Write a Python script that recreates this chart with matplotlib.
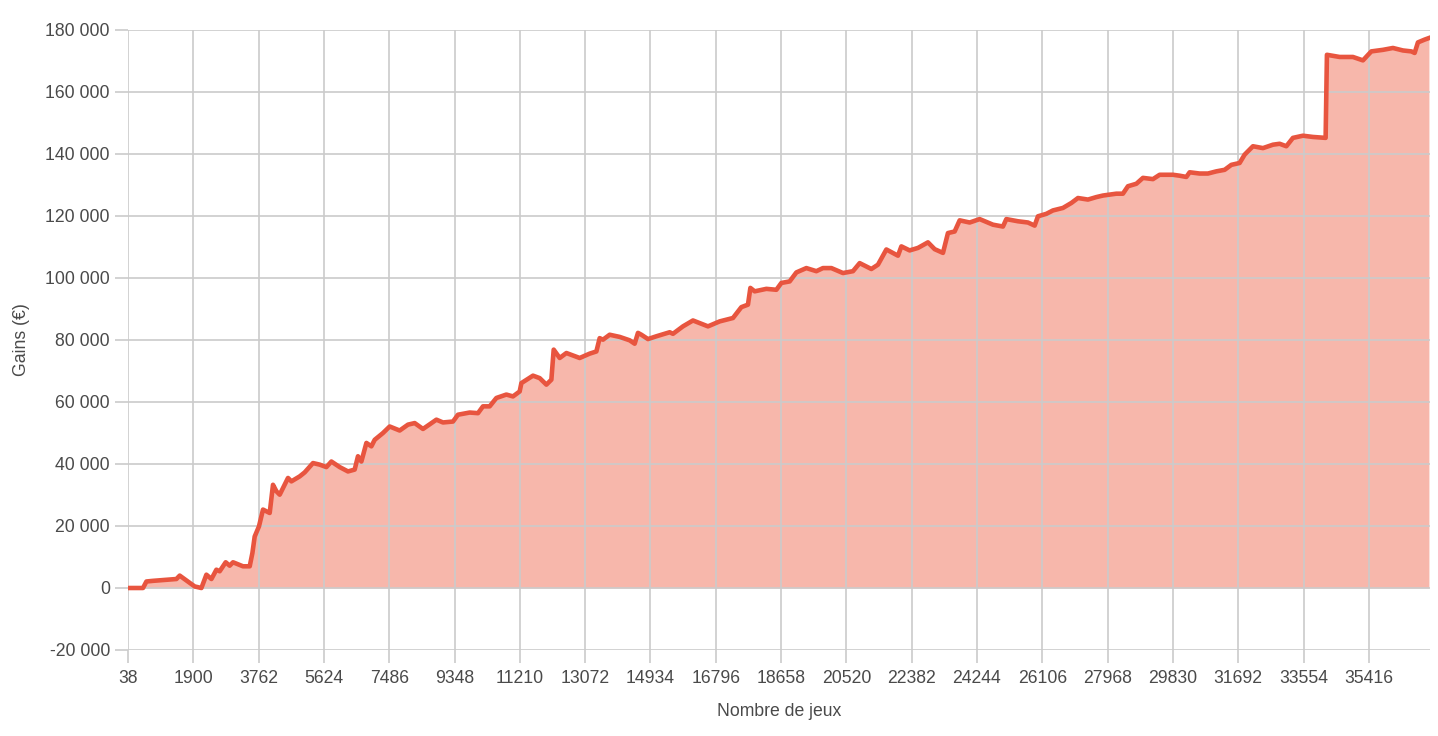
import matplotlib.pyplot as plt
from matplotlib.ticker import FuncFormatter

# cumulative gains (number of games -> gains in euros)
games = [38, 466, 563, 742, 1418, 1512, 1940, 2131, 2273, 2416, 2558, 2652,
         2823, 2937, 3032, 3317, 3508, 3585, 3650, 3773, 3887, 4078, 4172,
         4269, 4363, 4600, 4697, 4933, 5076, 5312, 5503, 5694, 5837, 6074,
         6310, 6501, 6595, 6692, 6835, 6977, 7071, 7308, 7499, 7784, 8021,
         8212, 8448, 8831, 9019, 9304, 9446, 9780, 10017, 10159, 10350,
         10541, 10826, 11014, 11205, 11254, 11585, 11776, 11967, 12109,
         12175, 12346, 12537, 12916, 13201, 13392, 13486, 13580, 13771,
         14056, 14341, 14484, 14578, 14675, 14863, 15103, 15482, 15576,
         15861, 16146, 16574, 16907, 17287, 17526, 17714, 17783, 17905,
         18239, 18524, 18666, 18903, 19094, 19379, 19664, 19852, 20092,
         20423, 20708, 20899, 21232, 21421, 21660, 21991, 22088, 22324,
         22561, 22846, 23037, 23274, 23416, 23607, 23750, 24035, 24320,
         24699, 24984, 25081, 25412, 25697, 25888, 25982, 26222, 26410,
         26695, 26934, 27123, 27408, 27647, 27835, 28217, 28405, 28548,
         28788, 28976, 29261, 29452, 29831, 30022, 30213, 30307, 30592,
         30829, 31068, 31305, 31496, 31732, 31875, 32112, 32397, 32682,
         32873, 33064, 33252, 33537, 33822, 34184, 34221, 34584, 34963,
         35248, 35487, 35818, 36103, 36388, 36628, 36722, 36816, 37007,
         37129]
gains = [0, 0, 2100, 2300, 2900, 4000, 500, 0, 4300, 2900, 5900, 5400,
         8300, 7200, 8300, 7000, 7000, 11300, 16600, 19900, 25300, 24200,
         33300, 31200, 30100, 35500, 34400, 36000, 37300, 40300, 39800,
         39000, 40800, 39000, 37600, 38200, 42500, 40800, 46800, 45700,
         47800, 50000, 52100, 50800, 52700, 53200, 51300, 54300, 53400,
         53700, 55900, 56600, 56400, 58600, 58600, 61300, 62400, 61800,
         63400, 66100, 68500, 67700, 65600, 67200, 76900, 74200, 75800,
         74200, 75600, 76300, 80600, 80100, 81700, 81000, 79900, 78800,
         82300, 81700, 80300, 81200, 82500, 82000, 84400, 86300, 84400,
         86000, 87100, 90600, 91400, 96800, 95700, 96500, 96200, 98400,
         98900, 101800, 103200, 102200, 103200, 103200, 101600, 102200,
         104800, 102900, 104300, 109200, 107200, 110200, 108900, 109700,
         111500, 109300, 108100, 114500, 115000, 118600, 117900, 119000,
         117200, 116600, 119000, 118300, 117900, 116900, 119900, 120700,
         121800, 122600, 124200, 125800, 125300, 126100, 126600, 127200,
         127200, 129600, 130400, 132300, 131900, 133300, 133300, 133000,
         132600, 134100, 133700, 133700, 134400, 134900, 136500, 137100,
         139800, 142500, 141900, 143000, 143300, 142500, 145200, 145900,
         145500, 145200, 172000, 171300, 171300, 170200, 173100, 173600,
         174200, 173400, 173100, 172600, 176000, 176900, 177400]

x_ticks = [38 + 1862 * i for i in range(20)]
y_ticks = [-20000, 0, 20000, 40000, 60000, 80000, 100000, 120000, 140000,
           160000, 180000]

line_color = '#e8553f'
fill_color = '#f7b7ab'
grid_color = '#cbcbcb'
text_color = '#4a4a4a'

plt.rcParams['font.family'] = ['Liberation Sans', 'DejaVu Sans']

fig = plt.figure(figsize=(14.38, 7.36), dpi=100)
ax = fig.add_axes([128 / 1438, 86 / 736, 1302 / 1438, 620 / 736])

ax.fill_between(games, gains, 0, color=fill_color, linewidth=0, zorder=1)
ax.plot(games, gains, color=line_color, linewidth=3.3, solid_joinstyle='round',
        zorder=3)

ax.set_xlim(38, 37160)
ax.set_ylim(-20000, 180000)
ax.set_xticks(x_ticks)
ax.set_yticks(y_ticks)
ax.yaxis.set_major_formatter(
    FuncFormatter(lambda v, p: f"{int(v):,}".replace(",", " ")))

ax.grid(True, color=grid_color, linewidth=1.2, zorder=2)
ax.set_axisbelow(False)
for s in ax.spines.values():
    s.set_visible(False)

ax.tick_params(axis='both', length=9.5, width=1.2, color=grid_color,
               labelsize=12.7, labelcolor=text_color)
ax.tick_params(axis='x', pad=5)
ax.tick_params(axis='y', pad=3.5)

fig.text(779 / 1438, 1 - 711 / 736, 'Nombre de jeux', ha='center', va='center',
         fontsize=12.7, color=text_color)
fig.text(21 / 1438, 1 - 340 / 736, 'Gains (€)', ha='center', va='center',
         rotation=90, fontsize=12.7, color=text_color)

fig.savefig('out.png', dpi=100)
